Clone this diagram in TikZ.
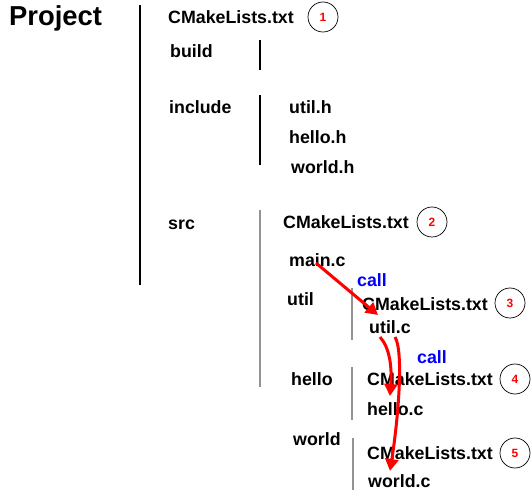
\documentclass[tikz,border=0pt]{standalone}
\usepackage{fontspec}
\setmainfont{Liberation Sans}
\usetikzlibrary{arrows.meta}
\begin{document}
\begin{tikzpicture}[x=1pt,y=-1pt,
  lbl/.style={anchor=west,inner sep=0pt,font=\fontsize{17.8}{20}\selectfont\bfseries,text height=12.7pt,text depth=0pt},
  calltxt/.style={lbl,text=blue},
  num/.style={circle,draw=black,line width=0.7pt,minimum size=30pt,inner sep=0pt,text=red,font=\fontsize{12}{14}\selectfont\bfseries},
  bar/.style={line width=1.4pt,black},
  gbar/.style={line width=2pt,gray!85},
  callarrow/.style={red,line width=3pt,-{Triangle[length=12pt,width=13pt]}}]
\useasboundingbox (0,0) rectangle (531,492);
\node[anchor=west,inner sep=0pt,font=\fontsize{27.4}{30}\selectfont\bfseries,text height=19.6pt,text depth=0pt] (project) at (9,16) {Project};
% main vertical
\coordinate (p1) at (140,5); \coordinate (p2) at (140,285);
\draw[bar] (p1) -- (p2);
\node[lbl] (cm1) at (168,17) {CMakeLists.txt};
\node[num] (n1) at (323,17) {1};
\node[lbl] (build) at (170,51) {build};
\coordinate (b1) at (260,40); \coordinate (b2) at (260,70);
\draw[bar] (b1) -- (b2);
\node[lbl] (include) at (169,107) {include};
\coordinate (i1) at (260,95); \coordinate (i2) at (260,165);
\draw[bar] (i1) -- (i2);
\node[lbl] (utilh) at (289,107) {util.h};
\node[lbl] (helloh) at (289,137) {hello.h};
\node[lbl] (worldh) at (291,167) {world.h};
\node[lbl] (src) at (168,223) {src};
\coordinate (s1) at (260,210); \coordinate (s2) at (260,387);
\draw[gbar] (s1) -- (s2);
\node[lbl] (cm2) at (283,222) {CMakeLists.txt};
\node[num] (n2) at (432,222) {2};
\node[lbl] (mainc) at (289,260) {main.c};
\node[calltxt] (call1) at (357,280) {call};
\node[lbl] (util) at (287,299) {util};
\coordinate (u1) at (352,288); \coordinate (u2) at (352,340);
\draw[gbar] (u1) -- (u2);
\node[lbl] (cm3) at (362,304) {CMakeLists.txt};
\node[num] (n3) at (510,303) {3};
\node[lbl] (utilc) at (369,327) {util.c};
\node[calltxt] (call2) at (417,357) {call};
\node[lbl] (hello) at (291,379) {hello};
\coordinate (h1) at (352,367); \coordinate (h2) at (352,420);
\draw[gbar] (h1) -- (h2);
\node[lbl] (cm4) at (367,379) {CMakeLists.txt};
\node[num] (n4) at (515,379) {4};
\node[lbl] (helloc) at (367,409) {hello.c};
\node[lbl] (world) at (293,439) {world};
\coordinate (w1) at (353,438); \coordinate (w2) at (353,490);
\draw[gbar] (w1) -- (w2);
\node[lbl] (cm5) at (367,453) {CMakeLists.txt};
\node[num] (n5) at (515,453) {5};
\node[lbl] (worldc) at (368,481) {world.c};
% arrows
\coordinate (a1s) at (316,263); \coordinate (a1e) at (378,315);
\draw[callarrow] (a1s) -- (a1e);
\coordinate (a2s) at (380,337); \coordinate (a2e) at (390,396);
\draw[callarrow] (a2s) .. controls (390,348) and (392,368) .. (a2e);
\coordinate (a3s) at (395,337); \coordinate (a3e) at (390,471);
\draw[callarrow] (a3s) .. controls (404,352) and (398,420) .. (a3e);
\end{tikzpicture}
\end{document}
